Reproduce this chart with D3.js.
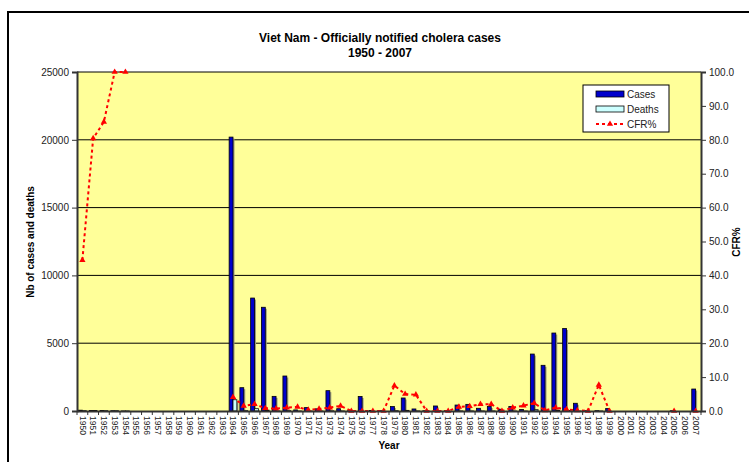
<!DOCTYPE html>
<html>
<head>
<meta charset="utf-8">
<script src="https://cdn.jsdelivr.net/npm/d3@7"></script>
<style>
  body { margin: 0; background: #fff; font-family: "Liberation Sans", Arial, sans-serif; }
  svg text { font-family: "Liberation Sans", Arial, sans-serif; }
</style>
</head>
<body>
<div id="chart"></div>
<script>
// Years 1950 - 2007
const years = d3.range(1950, 2008).map(String);

// Notified cases (null = no report)
const cases = [60, 40, 30, 25, 5, null, null, null, null, null,
	null, null, null, null, 20200, 1720, 8330, 7650, 1080, 2580,
	80, 250, 160, 1500, 170, 20, 1070, 30, 20, 330,
	960, 150, 20, 370, 20, 440, 490, 200, 330, 130,
	330, 110, 4200, 3370, 5750, 6080, 570, 20, 26, 180,
	null, null, null, null, null, 20, null, 1620];

// Deaths
const deaths = [27, 32, 26, 25, 5, null, null, null, null, null,
	null, null, null, null, 830, 26, 170, 60, 8, 26,
	1, 1, 1, 15, 3, 0, 0, 0, 0, 25,
	48, 7, 0, 0, 0, 5, 7, 4, 7, 0,
	3, 2, 97, 7, 58, 30, 1, 0, 2, 0,
	null, null, null, null, null, 0, null, 0];

// Case fatality rate %
const cfr = [44.5, 80.4, 85.3, 100, 100, null, null, null, null, null,
	null, null, null, null, 4.1, 1.5, 2.0, 0.8, 0.7, 1.0,
	1.2, 0.3, 0.6, 1.0, 1.5, 0, 0, 0, 0, 7.5,
	5.0, 4.8, 0, 0, 0, 1.2, 1.4, 2.0, 2.0, 0,
	1.0, 1.6, 2.3, 0.2, 1.0, 0.5, 0.2, 0, 7.7, 0,
	null, null, null, null, null, 0, null, 0];

const leftTicks = [0, 5000, 10000, 15000, 20000, 25000];
const rightTicks = [0, 10, 20, 30, 40, 50, 60, 70, 80, 90, 100];

const W = 749, H = 462;
const plot = { left: 77, right: 701, top: 72, bottom: 411 };

const svg = d3.select('#chart').append('svg')
	.attr('width', W).attr('height', H);

// outer chart border
svg.append('rect')
	.attr('x', 8).attr('y', 12)
	.attr('width', W + 10).attr('height', H + 10)
	.attr('fill', '#fff').attr('stroke', '#000').attr('stroke-width', 2);

const x = d3.scaleBand().domain(years).range([plot.left, plot.right]);
const y = d3.scaleLinear().domain([0, 25000]).range([plot.bottom, plot.top]);
const y2 = d3.scaleLinear().domain([0, 100]).range([plot.bottom, plot.top]);

// plot area
svg.append('rect')
	.attr('x', plot.left).attr('y', plot.top)
	.attr('width', plot.right - plot.left).attr('height', plot.bottom - plot.top)
	.attr('fill', '#FFFF99');

// gridlines
svg.append('g')
	.selectAll('line')
	.data(leftTicks.filter(d => d > 0))
	.join('line')
	.attr('x1', plot.left).attr('x2', plot.right)
	.attr('y1', d => y(d)).attr('y2', d => y(d))
	.attr('stroke', '#000').attr('stroke-width', 1);

// bars
const bw = x.bandwidth() * 0.36;
const idx = d3.range(years.length);

function drawBars(vals, offset, fill) {
	const g = svg.append('g');
	const data = idx.filter(i => vals[i] != null && vals[i] > 0);
	// shadow
	g.selectAll('rect.sh').data(data).join('rect')
		.attr('class', 'sh')
		.attr('x', i => x(years[i]) + offset + 1.5)
		.attr('y', i => y(vals[i]) + 1.5)
		.attr('width', bw)
		.attr('height', i => Math.max(0, plot.bottom - y(vals[i]) - 1.5))
		.attr('fill', '#9a9a80');
	g.selectAll('rect.b').data(data).join('rect')
		.attr('class', 'b')
		.attr('x', i => x(years[i]) + offset)
		.attr('y', i => y(vals[i]))
		.attr('width', bw)
		.attr('height', i => plot.bottom - y(vals[i]))
		.attr('fill', fill).attr('stroke', '#000').attr('stroke-width', 0.8);
}
const mid = x.bandwidth() / 2;
drawBars(cases, mid - bw, '#0000CC');
drawBars(deaths, mid, '#CCFFFF');

// CFR line
const line = d3.line()
	.defined(i => cfr[i] != null)
	.x(i => x(years[i]) + mid)
	.y(i => y2(cfr[i]));

svg.append('path')
	.datum(idx)
	.attr('d', line)
	.attr('fill', 'none')
	.attr('stroke', '#FF0000')
	.attr('stroke-width', 2)
	.attr('stroke-dasharray', '3,3');

svg.append('g')
	.selectAll('path')
	.data(idx.filter(i => cfr[i] != null))
	.join('path')
	.attr('transform', i => `translate(${x(years[i]) + mid},${y2(cfr[i])})`)
	.attr('d', d3.symbol().type(d3.symbolTriangle).size(17))
	.attr('fill', '#FF0000');

// axes
const axL = svg.append('g')
	.attr('transform', `translate(${plot.left},0)`)
	.call(d3.axisLeft(y).tickValues(leftTicks).tickSize(5).tickPadding(3).tickFormat(d3.format('d')));
const axR = svg.append('g')
	.attr('transform', `translate(${plot.right},0)`)
	.call(d3.axisRight(y2).tickValues(rightTicks).tickSize(5).tickPadding(3).tickFormat(d3.format('.1f')));
const axB = svg.append('g')
	.attr('transform', `translate(0,${plot.bottom})`)
	.call(d3.axisBottom(x).tickSize(0).tickFormat(d => d));

[axL, axR].forEach(a => {
	a.select('.domain').attr('stroke', '#333').attr('stroke-width', 2);
	a.selectAll('.tick line').attr('stroke', '#333');
	a.selectAll('.tick text').attr('font-size', 10).attr('fill', '#222');
});

axB.select('.domain').attr('stroke', '#333').attr('stroke-width', 2);
axB.selectAll('.tick text')
	.attr('font-size', 8.5).attr('fill', '#222')
	.attr('transform', 'rotate(90)')
	.attr('text-anchor', 'start')
	.attr('dy', '0.32em')
	.attr('x', 5).attr('y', 0);

// category boundary ticks on x axis
svg.append('g')
	.selectAll('line')
	.data(d3.range(years.length + 1))
	.join('line')
	.attr('x1', i => plot.left + i * x.step())
	.attr('x2', i => plot.left + i * x.step())
	.attr('y1', plot.bottom).attr('y2', plot.bottom + 4)
	.attr('stroke', '#333');

// titles
svg.append('text')
	.attr('x', 380).attr('y', 42)
	.attr('text-anchor', 'middle').attr('font-weight', 'bold').attr('font-size', 12)
	.text('Viet Nam - Officially notified cholera cases');
svg.append('text')
	.attr('x', 380).attr('y', 57)
	.attr('text-anchor', 'middle').attr('font-weight', 'bold').attr('font-size', 12)
	.text('1950 - 2007');

svg.append('text')
	.attr('transform', 'translate(34,242) rotate(-90)')
	.attr('text-anchor', 'middle').attr('font-weight', 'bold').attr('font-size', 10)
	.text('Nb of cases and deaths');
svg.append('text')
	.attr('transform', 'translate(740,242) rotate(-90)')
	.attr('text-anchor', 'middle').attr('font-weight', 'bold').attr('font-size', 10)
	.text('CFR%');
svg.append('text')
	.attr('x', 389).attr('y', 449)
	.attr('text-anchor', 'middle').attr('font-weight', 'bold').attr('font-size', 10)
	.text('Year');

// legend
const lg = svg.append('g').attr('transform', 'translate(583,85)');
lg.append('rect')
	.attr('width', 86).attr('height', 47)
	.attr('fill', '#fff').attr('stroke', '#000').attr('stroke-width', 1);
const legendItems = [
	{ name: 'Cases', type: 'bar', fill: '#0000CC' },
	{ name: 'Deaths', type: 'bar', fill: '#CCFFFF' },
	{ name: 'CFR%', type: 'line' }
];
legendItems.forEach((d, i) => {
	const cy = 9 + i * 15;
	if (d.type === 'bar') {
		lg.append('rect')
			.attr('x', 13).attr('y', cy - 3).attr('width', 28).attr('height', 6)
			.attr('fill', d.fill).attr('stroke', '#000').attr('stroke-width', 0.8);
	} else {
		lg.append('line')
			.attr('x1', 13).attr('x2', 41).attr('y1', cy).attr('y2', cy)
			.attr('stroke', '#FF0000').attr('stroke-width', 2).attr('stroke-dasharray', '3,3');
		lg.append('path')
			.attr('transform', `translate(27,${cy})`)
			.attr('d', d3.symbol().type(d3.symbolTriangle).size(17))
			.attr('fill', '#FF0000');
	}
	lg.append('text')
		.attr('x', 44).attr('y', cy).attr('dy', '0.35em')
		.attr('font-size', 10).attr('fill', '#222')
		.text(d.name);
});
</script>
</body>
</html>
